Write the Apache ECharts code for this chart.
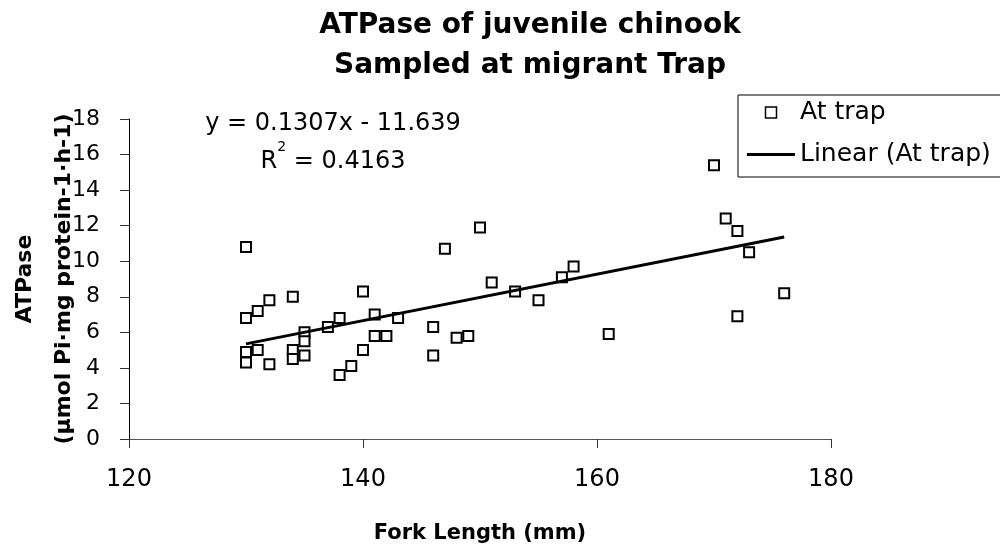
<!DOCTYPE html>
<html>
<head>
<meta charset="utf-8">
<script src="https://cdn.jsdelivr.net/npm/echarts@6/dist/echarts.min.js"></script>
<style>
  html, body { margin: 0; padding: 0; background: #fff; }
  #chart { width: 1000px; height: 544px; }
</style>
</head>
<body>
<div id="chart"></div>
<script>
// fork length (mm) and ATPase activity, one entry per fish
var forkLength = [130, 130, 130, 130, 131, 131, 132, 132, 134, 134, 134, 135, 135, 135,
    137, 138, 138, 139, 140, 140, 141, 141, 142, 143, 146, 146, 147, 148, 149, 150,
    151, 153, 155, 157, 158, 161, 170, 171, 172, 172, 173, 176];
var atpase = [10.8, 6.8, 4.9, 4.3, 7.2, 5.0, 7.8, 4.2, 8.0, 5.0, 4.5, 6.0, 5.5, 4.7,
    6.3, 6.8, 3.6, 4.1, 8.3, 5.0, 7.0, 5.8, 5.8, 6.8, 6.3, 4.7, 10.7, 5.7, 5.8, 11.9,
    8.8, 8.3, 7.8, 9.1, 9.7, 5.9, 15.4, 12.4, 11.7, 6.9, 10.5, 8.2];

// trendline as printed on the chart
var trendSlope = 0.1307;
var trendIntercept = -11.639;
var trendLabel = 'y = 0.1307x - 11.639';
var r2Value = '0.4163';

var xTicks = [120, 140, 160, 180];
var yTicks = [0, 2, 4, 6, 8, 10, 12, 14, 16, 18];

var FONT = 'DejaVu Sans';

var points = [];
for (var i = 0; i < forkLength.length; i++) {
    points.push([forkLength[i], atpase[i]]);
}
var xLo = Math.min.apply(null, forkLength);
var xHi = Math.max.apply(null, forkLength);
var trend = [
    [xLo, trendSlope * xLo + trendIntercept],
    [xHi, trendSlope * xHi + trendIntercept]
];

var chart = echarts.init(document.getElementById('chart'));
chart.setOption({
    animation: false,
    backgroundColor: '#fff',
    title: {
        text: 'ATPase of juvenile chinook\nSampled at migrant Trap',
        left: 530,
        top: 6,
        padding: 0,
        textAlign: 'center',
        textStyle: {
            fontFamily: FONT,
            fontWeight: 'bold',
            fontSize: 28,
            lineHeight: 40,
            color: '#000'
        }
    },
    grid: {
        left: 129,
        right: 169,
        top: 119,
        bottom: 105,
        containLabel: false,
        outerBoundsMode: 'none'
    },
    legend: {
        orient: 'vertical',
        left: 738,
        top: 95,
        padding: [5, 30, 10, 9],
        itemWidth: 48,
        itemHeight: 11,
        itemGap: 17,
        symbolKeepAspect: true,
        borderColor: '#000',
        borderWidth: 1,
        borderRadius: 0,
        textStyle: { fontFamily: FONT, fontSize: 25, color: '#000' },
        data: [
            {
                name: 'At trap',
                icon: 'path://M0 0H10V10H0Z',
                itemStyle: { color: '#fff', borderColor: '#000', borderWidth: 1.5 }
            },
            {
                name: 'Linear (At trap)',
                icon: 'path://M0 0H16V1H0Z',
                itemStyle: { color: '#000', borderWidth: 0 }
            }
        ]
    },
    xAxis: {
        type: 'value',
        min: xTicks[0],
        max: xTicks[xTicks.length - 1],
        interval: 20,
        name: 'Fork Length (mm)',
        nameLocation: 'middle',
        nameGap: 84,
        nameTextStyle: { fontFamily: FONT, fontWeight: 'bold', fontSize: 21, color: '#000' },
        axisLine: { show: true, lineStyle: { color: '#555', width: 1 } },
        axisTick: { show: true, length: 9, lineStyle: { color: '#333' } },
        axisLabel: { margin: 29, fontFamily: FONT, fontSize: 24, color: '#000' },
        splitLine: { show: false }
    },
    yAxis: {
        type: 'value',
        min: yTicks[0],
        max: yTicks[yTicks.length - 1],
        interval: 2,
        name: 'ATPase\n(µmol Pi·mg protein-1·h-1)',
        nameLocation: 'middle',
        nameGap: 45,
        nameMoveOverlap: false,
        nameTextStyle: { fontFamily: FONT, fontWeight: 'bold', fontSize: 22, lineHeight: 39, color: '#000' },
        axisLine: { show: true, lineStyle: { color: '#000', width: 1 } },
        axisTick: { show: true, length: 9, lineStyle: { color: '#333' } },
        axisLabel: { margin: 29, fontFamily: FONT, fontSize: 22, color: '#000' },
        splitLine: { show: false }
    },
    graphic: [
        {
            type: 'text',
            x: 333,
            y: 124,
            style: {
                text: trendLabel,
                fontFamily: FONT,
                fontSize: 24,
                fill: '#000',
                align: 'center',
                verticalAlign: 'middle'
            }
        },
        {
            type: 'text',
            x: 333,
            y: 140,
            style: {
                text: '{r|R}{s|2}{r| = ' + r2Value + '}',
                align: 'center',
                verticalAlign: 'top',
                rich: {
                    r: { fontFamily: FONT, fontSize: 24, lineHeight: 34, verticalAlign: 'bottom', color: '#000' },
                    s: { fontFamily: FONT, fontSize: 14, lineHeight: 34, verticalAlign: 'top', color: '#000' }
                }
            }
        }
    ],
    series: [
        {
            name: 'At trap',
            type: 'scatter',
            symbol: 'rect',
            symbolSize: 10,
            itemStyle: { color: '#fff', borderColor: '#000', borderWidth: 2, opacity: 1 },
            data: points,
            z: 2
        },
        {
            name: 'Linear (At trap)',
            type: 'line',
            symbol: 'none',
            showSymbol: false,
            color: '#000',
            lineStyle: { color: '#000', width: 3 },
            data: trend,
            z: 3
        }
    ]
});
</script>
</body>
</html>
